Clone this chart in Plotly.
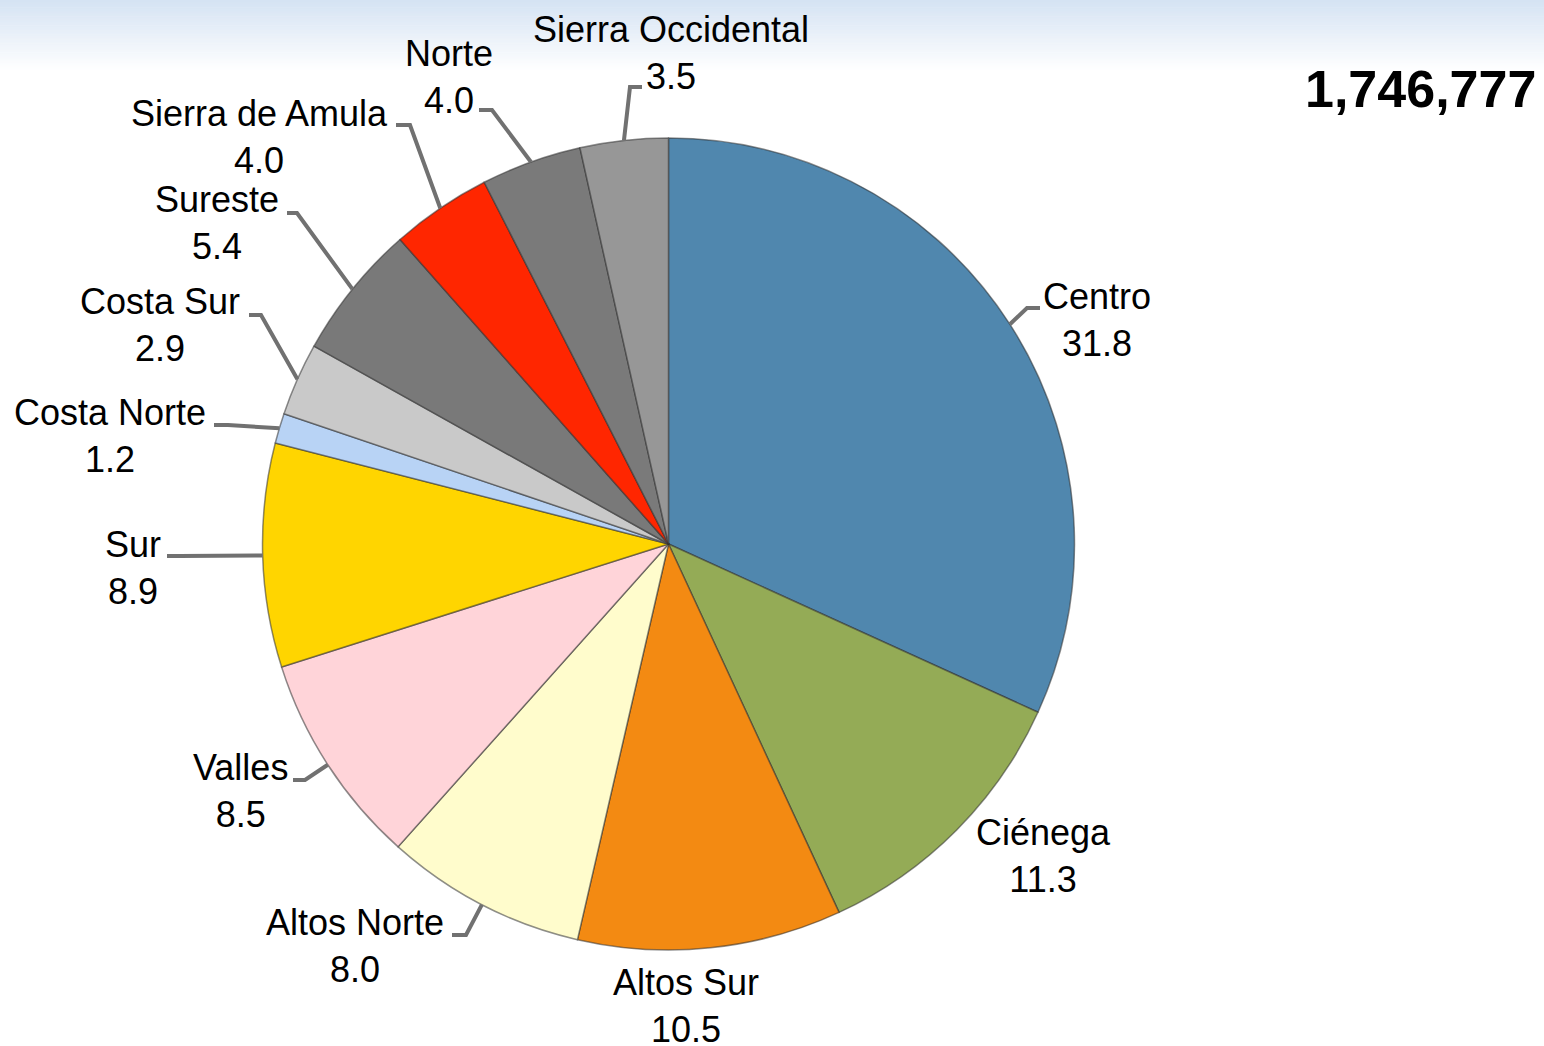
import math
import plotly.graph_objects as go

# ---- data ----
regions = ["Centro", "Ciénega", "Altos Sur", "Altos Norte", "Valles", "Sur",
           "Costa Norte", "Costa Sur", "Sureste", "Sierra de Amula", "Norte",
           "Sierra Occidental"]
shares = [31.8, 11.3, 10.5, 8.0, 8.5, 8.9, 1.2, 2.9, 5.4, 4.0, 4.0, 3.5]
total_label = "1,746,777"

# ---- style ----
colors = ["#5087AE", "#94AB56", "#F38A12", "#FFFCCC", "#FFD4D9", "#FFD500",
          "#B8D3F5", "#C9C9C9", "#797979", "#FF2600", "#7A7A7A", "#979797"]

W, H = 1544, 1046
CX, CY, R = 668.5, 544.0, 406.0
FONT = "Liberation Sans, Arial, sans-serif"
LBL_SIZE = 36
LEADER = "#717171"

# label layout in pixels: center of label block, leader end, leader elbow (None = no leader)
label_layout = {
    "Centro": ((1097, 320), (1040, 308), (1027, 308)),
    "Ciénega": ((1043, 856), None, None),
    "Altos Sur": ((686, 1006), None, None),
    "Altos Norte": ((355, 946), (452, 935), (466, 935)),
    "Valles": ((240, 791), (293, 780), (305, 780)),
    "Sur": ((133, 568), (167, 556), (180, 556)),
    "Costa Norte": ((110, 436), (214, 425), (228, 425)),
    "Costa Sur": ((160, 325), (249, 315), (261, 315)),
    "Sureste": ((217, 223), (287, 213), (297, 213)),
    "Sierra de Amula": ((259, 137), (396, 125), (410, 125)),
    "Norte": ((449, 77), (479, 110), (492, 110)),
    "Sierra Occidental": ((671, 53), (642, 87), (630, 87)),
}


def px(x):
    return x / W


def py(y):
    return 1 - y / H


fig = go.Figure()

fig.add_trace(go.Pie(
    labels=regions,
    values=shares,
    sort=False,
    direction="clockwise",
    rotation=0,
    marker=dict(colors=colors, line=dict(color="rgba(50,50,50,0.55)", width=1.5)),
    textinfo="none",
    hoverinfo="label+value",
    showlegend=False,
    domain=dict(x=[px(CX - R), px(CX + R)], y=[py(CY + R), py(CY - R)]),
))

# background gradient band at top
n_bands = 40
band_h = 72
top = (213, 227, 243)
for i in range(n_bands):
    t = i / (n_bands - 1)
    c = tuple(round(top[k] + (255 - top[k]) * t) for k in range(3))
    y0 = band_h * i / n_bands
    y1 = band_h * (i + 1) / n_bands + 0.5
    fig.add_shape(type="rect", xref="paper", yref="paper",
                  x0=0, x1=1, y0=py(y1), y1=py(y0),
                  fillcolor=f"rgb{c}", line=dict(width=0), layer="below")

# labels and leader lines
total = sum(shares)
cum = 0.0
for name, v in zip(regions, shares):
    mid = (cum + v / 2) / total
    cum += v
    theta = 2 * math.pi * mid
    ax = CX + R * math.sin(theta)
    ay = CY - R * math.cos(theta)
    (lx, ly), end, elbow = label_layout[name]
    fig.add_annotation(x=px(lx), y=py(ly), xref="paper", yref="paper",
                       text=f"{name}<br>{v:.1f}", showarrow=False,
                       xanchor="center", yanchor="middle",
                       font=dict(family=FONT, size=LBL_SIZE, color="black"))
    if end is not None:
        path = (f"M {px(ax)} {py(ay)} L {px(elbow[0])} {py(elbow[1])} "
                f"L {px(end[0])} {py(end[1])}")
        fig.add_shape(type="path", xref="paper", yref="paper", path=path,
                      line=dict(color=LEADER, width=4))

fig.add_annotation(x=px(1538), y=py(89), xref="paper", yref="paper",
                   text=f"<b>{total_label}</b>", showarrow=False,
                   xanchor="right", yanchor="middle",
                   font=dict(family=FONT, size=52, color="black"))

fig.update_layout(
    width=W, height=H,
    margin=dict(l=0, r=0, t=0, b=0),
    paper_bgcolor="white",
    plot_bgcolor="white",
)

fig.write_html("out.html",
               config={"displayModeBar": False},
               post_script="document.body.style.margin='0px';document.body.style.overflow='hidden';")
